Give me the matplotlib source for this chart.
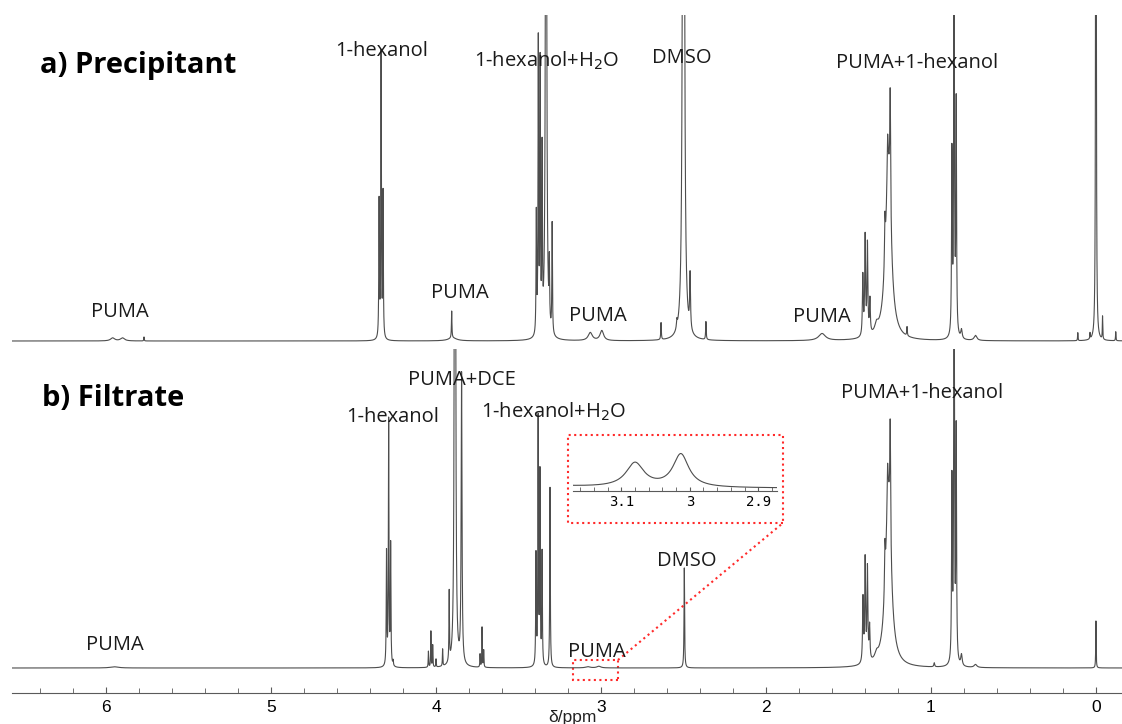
import numpy as np
import matplotlib
matplotlib.use("Agg")
from matplotlib import pyplot as plt
from matplotlib import font_manager
from matplotlib.patches import Rectangle
from matplotlib.ticker import MultipleLocator, FixedLocator, FixedFormatter

# peak lists: chemical shift (ppm), height, half width (ppm)
a_shift = [5.96, 5.90, 5.77,
           4.345, 4.333, 4.321,
           3.905, 3.90,
           3.392, 3.380, 3.369, 3.357, 3.333, 3.313, 3.296,
           3.065, 2.995,
           2.636, 2.54, 2.50, 2.46, 2.364,
           1.66,
           1.413, 1.399, 1.385, 1.370, 1.33,
           1.258, 1.279, 1.263, 1.247,
           1.145,
           0.873, 0.860, 0.847, 0.815, 0.73,
           0.11, 0.036, 0.0, -0.04, -0.12]
a_height = [3, 3, 4,
            136, 284, 144,
            27, 3,
            120, 290, 265, 175, 900, 60, 110,
            8, 10,
            17, 8, 2000, 55, 18,
            7,
            60, 98, 90, 34, 8,
            170, 45, 40, 120,
            9,
            180, 420, 230, 9, 5,
            8, 6, 1500, 23, 9]
a_width = [0.015, 0.015, 0.0015,
           0.002, 0.002, 0.002,
           0.0018, 0.03,
           0.002, 0.002, 0.002, 0.002, 0.0035, 0.002, 0.002,
           0.015, 0.013,
           0.002, 0.003, 0.0035, 0.003, 0.002,
           0.025,
           0.003, 0.003, 0.003, 0.003, 0.012,
           0.02, 0.003, 0.003, 0.003,
           0.002,
           0.0025, 0.0025, 0.0025, 0.005, 0.01,
           0.0015, 0.0015, 0.0015, 0.0015, 0.0015]

b_shift = [5.95,
           4.300, 4.287, 4.275, 4.26,
           4.046, 4.031, 4.020, 4.000, 3.96, 3.92,
           3.885, 3.845,
           3.733, 3.721, 3.711,
           3.394, 3.381, 3.370, 3.357, 3.309,
           3.08, 3.013,
           2.495,
           1.412, 1.399, 1.385, 1.372, 1.33,
           1.258, 1.279, 1.263, 1.247,
           0.98,
           0.873, 0.860, 0.847, 0.815, 0.73,
           0.0]
b_height = [1.2,
            113, 245, 120, 5,
            16, 36, 22, 8, 17, 70,
            2500, 290,
            13, 40, 17,
            110, 245, 190, 112, 180,
            1.2, 1.65,
            100,
            64, 102, 93, 34, 6,
            170, 45, 38, 116,
            4,
            180, 420, 230, 11, 3,
            47]
b_width = [0.03,
           0.002, 0.002, 0.002, 0.002,
           0.0015, 0.0015, 0.0015, 0.0015, 0.0015, 0.0018,
           0.002, 0.003,
           0.0015, 0.0015, 0.0015,
           0.002, 0.002, 0.002, 0.002, 0.002,
           0.016, 0.014,
           0.002,
           0.003, 0.003, 0.003, 0.003, 0.012,
           0.02, 0.003, 0.003, 0.003,
           0.003,
           0.0025, 0.0025, 0.0025, 0.005, 0.01,
           0.0015]

# peak assignments: (text, shift, height of text baseline)
a_labels = [("1-hexanol", 4.327, 285),
            ("1-hexanol+H$_2$O", 3.327, 274),
            ("DMSO", 2.509, 278),
            ("PUMA+1-hexanol", 1.085, 273),
            ("PUMA", 5.915, 24),
            ("PUMA", 3.855, 43),
            ("PUMA", 3.018, 20),
            ("PUMA", 1.66, 19)]
b_labels = [("PUMA", 5.945, 18),
            ("1-hexanol", 4.261, 246),
            ("PUMA+DCE", 3.842, 283),
            ("1-hexanol+H$_2$O", 3.285, 250),
            ("DMSO", 2.479, 102),
            ("PUMA", 3.024, 11),
            ("PUMA+1-hexanol", 1.055, 270)]

inset_ticks = [3.1, 3.0, 2.9]
inset_ticklabels = ["3.1", "3", "2.9"]

W, H = 1122, 724
LINE = "#4d4d4d"
AXIS = "#5a5a5a"
RED = "#ff2a2a"

installed = {f.name for f in font_manager.fontManager.ttflist}
tick_font = "Liberation Sans Narrow" if "Liberation Sans Narrow" in installed else "Liberation Sans"
label_font = "Open Sans" if "Open Sans" in installed else "DejaVu Sans"


def spectrum(ppm, shifts, heights, widths):
    y = np.zeros_like(ppm)
    for c, h, w in zip(shifts, heights, widths):
        y += h / (1.0 + ((ppm - c) / w) ** 2)
    return y


def box(x0, y0, x1, y1):
    return [x0 / W, 1 - y1 / H, (x1 - x0) / W, (y1 - y0) / H]


ppm = np.linspace(6.6, -0.2, 27201)
spec_a = spectrum(ppm, a_shift, a_height, a_width)
spec_b = spectrum(ppm, b_shift, b_height, b_width)

fig = plt.figure(figsize=(W / 100, H / 100), dpi=100)
ax_a = fig.add_axes(box(12, 15, 1122, 349))
ax_b = fig.add_axes(box(12, 349, 1122, 693))

for ax, spec, ylim in ((ax_a, spec_a, (-8, 326)), (ax_b, spec_b, (-25, 319))):
    ax.plot(ppm, spec, color=LINE, lw=0.8)
    ax.set_xlim(6.570, -0.158)
    ax.set_ylim(*ylim)
    ax.set_yticks([])
    for side in ("top", "right", "left", "bottom"):
        ax.spines[side].set_visible(False)

ax_a.set_xticks([])
ax_b.spines["bottom"].set_visible(True)
ax_b.spines["bottom"].set_color(AXIS)
ax_b.xaxis.set_major_locator(MultipleLocator(1))
ax_b.xaxis.set_minor_locator(MultipleLocator(0.2))
ax_b.xaxis.set_major_formatter(lambda v, pos: f"{v:.0f}")
ax_b.tick_params(axis="x", which="both", direction="in", color=AXIS,
                 labelsize=12.5, pad=5)
ax_b.tick_params(axis="x", which="major", length=4)
ax_b.tick_params(axis="x", which="minor", length=3.5)
for lab in ax_b.get_xticklabels():
    lab.set_fontfamily(tick_font)
ax_b.text(0.5045, -0.07, "δ/ppm", transform=ax_b.transAxes, ha="center",
          va="center", fontsize=12.5, family=tick_font, color="#222222")

for ax, labels in ((ax_a, a_labels), (ax_b, b_labels)):
    for text, x, y in labels:
        ax.text(x, y, text, ha="center", va="baseline", fontsize=14.5,
                family=label_font, color="#1a1a1a", clip_on=False)

fig.text(40 / W, 1 - 73 / H, "a) Precipitant", fontsize=21, fontweight="bold",
         family=label_font, va="baseline")
fig.text(42 / W, 1 - 406 / H, "b) Filtrate", fontsize=21, fontweight="bold",
         family=label_font, va="baseline")

# zoom frame around the weak PUMA signals near 3 ppm
dotted = dict(edgecolor=RED, facecolor="none", lw=1.5, linestyle=":", clip_on=False)
ax_b.add_patch(Rectangle((2.897, -12), 0.273, 20, **dotted))
ax_b.add_patch(Rectangle((1.897, 145), 1.303, 88, **dotted))
ax_b.plot([2.897, 1.897], [8, 145], color=RED, lw=1.5, linestyle=":", clip_on=False)

ax_in = fig.add_axes(box(572.7, 445, 776.7, 490.7))
ax_in.plot(ppm, spec_b, color=LINE, lw=0.8)
ax_in.set_xlim(3.171, 2.873)
ax_in.set_ylim(-0.07, 2.215)
ax_in.set_yticks([])
for side in ("top", "right", "left"):
    ax_in.spines[side].set_visible(False)
ax_in.spines["bottom"].set_color(AXIS)
ax_in.xaxis.set_major_locator(FixedLocator(inset_ticks))
ax_in.xaxis.set_major_formatter(FixedFormatter(inset_ticklabels))
ax_in.xaxis.set_minor_locator(MultipleLocator(0.02))
ax_in.tick_params(axis="x", which="both", direction="in", color=AXIS,
                  length=3, labelsize=10, pad=3)
for lab in ax_in.get_xticklabels():
    lab.set_fontfamily("DejaVu Sans Mono")
ax_in.patch.set_alpha(0)

fig.savefig("out.png", dpi=100)
